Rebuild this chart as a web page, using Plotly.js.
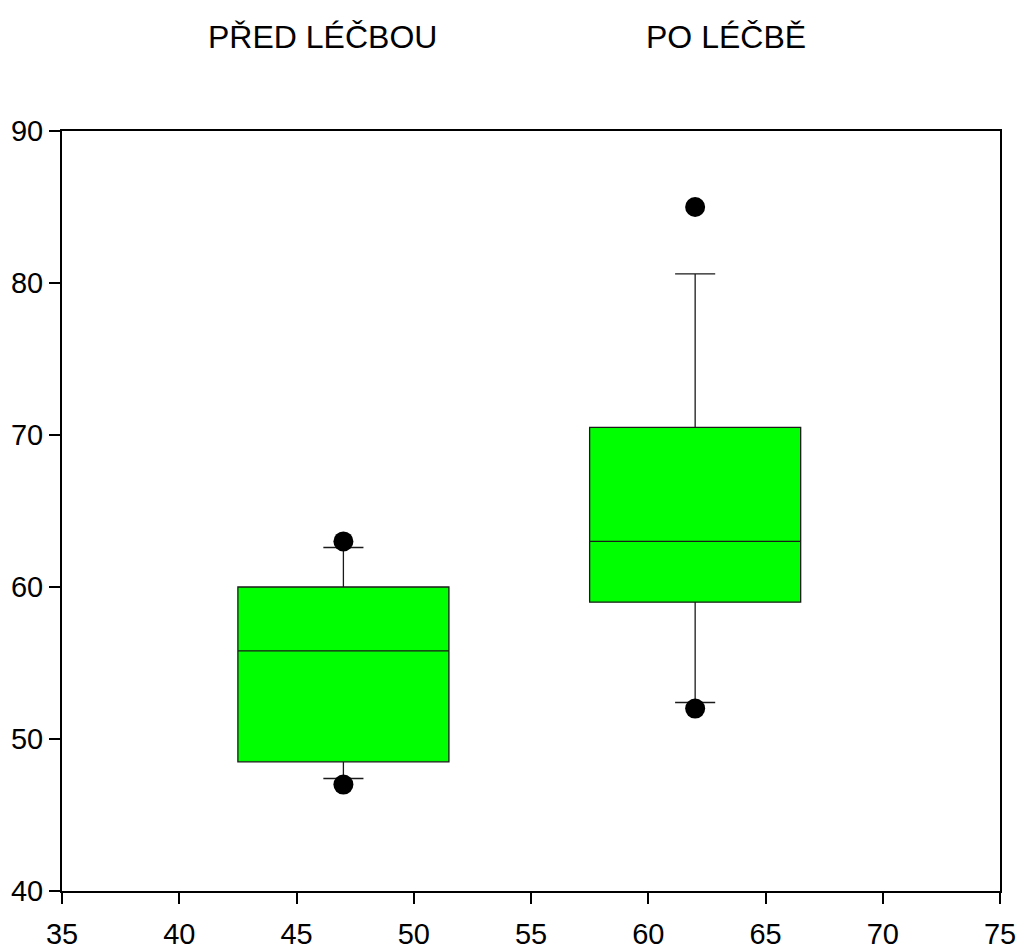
<!DOCTYPE html>
<html>
<head>
<meta charset="utf-8">
<script src="https://cdn.plot.ly/plotly-3.0.1.min.js"></script>
<style>
  html, body { margin: 0; padding: 0; background: #fff; }
  #chart { width: 1021px; height: 949px; }
</style>
</head>
<body>
<div id="chart"></div>
<script>
// Group labels and box positions on the x axis
const groupLabels = ['PŘED LÉČBOU', 'PO LÉČBĚ'];
const groupX = [47, 62];

// Box statistics per group
const q1 = [48.5, 59];
const median = [55.8, 63];
const q3 = [60, 70.5];
const lowerWhisker = [47.4, 52.4];
const upperWhisker = [62.6, 80.6];

// Points beyond the whiskers, per group
const outliersLow = [47, 52];
const outliersHigh = [63, 85];

// Axis ticks
const xTicks = [35, 40, 45, 50, 55, 60, 65, 70, 75];
const yTicks = [40, 50, 60, 70, 80, 90];

const traces = [];

traces.push({
  type: 'box',
  x: groupX,
  q1: q1,
  median: median,
  q3: q3,
  lowerfence: lowerWhisker,
  upperfence: upperWhisker,
  width: 9,
  whiskerwidth: 0.19,
  boxpoints: false,
  fillcolor: '#00ff00',
  line: { color: '#1a1a1a', width: 1.3 },
  hoverinfo: 'skip',
  showlegend: false
});

traces.push({
  type: 'scatter',
  mode: 'markers',
  x: groupX.concat(groupX),
  y: outliersLow.concat(outliersHigh),
  marker: { symbol: 'circle', size: 20, color: '#000000' },
  hoverinfo: 'skip',
  showlegend: false,
  cliponaxis: false
});

const annotations = groupLabels.map((label, i) => ({
  text: label,
  xref: 'paper',
  yref: 'paper',
  x: [0.2777, 0.7077][i],
  y: 1.1237,
  xanchor: 'center',
  yanchor: 'middle',
  showarrow: false,
  font: { family: 'Liberation Sans, Arial, sans-serif', size: 32, color: '#000' }
}));

const axisCommon = {
  showgrid: false,
  zeroline: false,
  showline: true,
  linecolor: '#000',
  linewidth: 2,
  mirror: true,
  ticks: 'outside',
  ticklen: 11,
  tickwidth: 2,
  tickcolor: '#000',
  tickfont: { family: 'Liberation Sans, Arial, sans-serif', size: 29, color: '#000' }
};

const layout = {
  width: 1021,
  height: 949,
  paper_bgcolor: '#ffffff',
  plot_bgcolor: '#ffffff',
  margin: { l: 62, r: 21, t: 131, b: 58 },
  showlegend: false,
  xaxis: Object.assign({}, axisCommon, {
    range: [35, 75],
    tickvals: xTicks,
    ticktext: xTicks.map(String),
    ticklabelstandoff: 5
  }),
  yaxis: Object.assign({}, axisCommon, {
    range: [40, 90],
    tickvals: yTicks,
    ticktext: yTicks.map(String),
    ticklabelstandoff: 0
  }),
  annotations: annotations
};

Plotly.newPlot('chart', traces, layout, { displayModeBar: false, staticPlot: true });
</script>
</body>
</html>
